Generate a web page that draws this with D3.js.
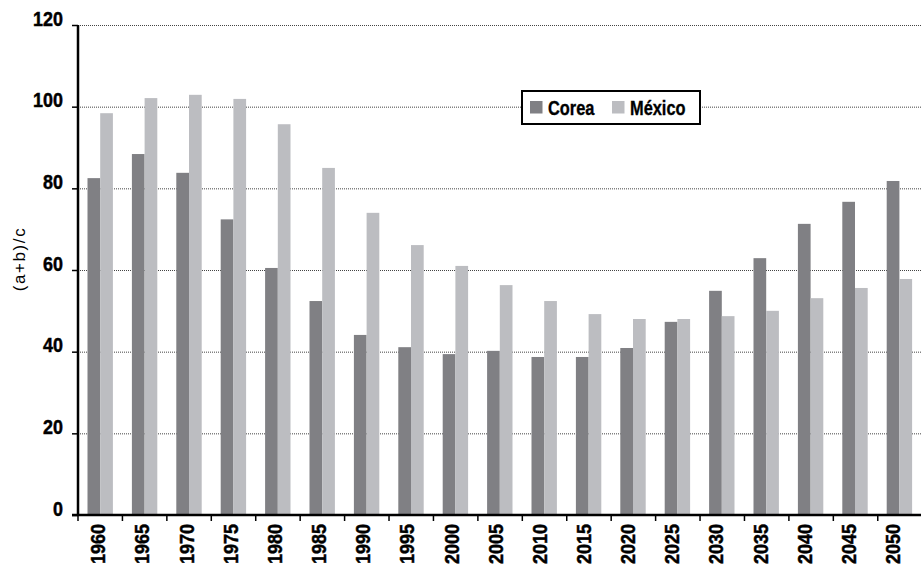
<!DOCTYPE html>
<html>
<head>
<meta charset="utf-8">
<script src="https://cdn.jsdelivr.net/npm/d3@7"></script>
<style>
  html, body { margin: 0; padding: 0; background: #fff; }
  svg { display: block; }
  .num { font-family: "Liberation Sans", Arial, sans-serif; font-weight: bold; font-size: 19.5px; fill: #000; stroke: #000; stroke-width: 0.45px; }
  .leg { font-family: "Liberation Sans", Arial, sans-serif; font-weight: bold; font-size: 20px; fill: #000; stroke: #000; stroke-width: 0.35px; }
  .ttl { font-family: "Liberation Sans", Arial, sans-serif; font-size: 17px; fill: #000; letter-spacing: 1.6px; }
</style>
</head>
<body>
<svg id="chart" width="921" height="567"></svg>
<script>
// ---- data ----
const years = ["1960","1965","1970","1975","1980","1985","1990","1995","2000","2005",
               "2010","2015","2020","2025","2030","2035","2040","2045","2050"];
const corea  = [82.5, 88.4, 83.8, 72.4, 60.5, 52.4, 44.1, 41.1, 39.4, 40.2,
                38.7, 38.7, 40.9, 47.3, 54.9, 62.9, 71.3, 76.7, 81.8];
const mexico = [98.4, 102.1, 102.9, 101.9, 95.7, 85.0, 74.0, 66.1, 61.0, 56.3,
                52.4, 49.2, 48.0, 48.0, 48.7, 50.0, 53.1, 55.6, 57.8];
const seriesNames = ["Corea", "México"];
const yTicks = [0, 20, 40, 60, 80, 100, 120];
const yTitle = "(a+b)/c";

(function () {
  const svg = d3.select("#chart");
  const mLeft = 78, mRight = 921.6, mTop = 25, mBottom = 515;
  const colors = { "Corea": "#808084", "México": "#bcbdc1" };

  const x = d3.scaleBand().domain(years).range([mLeft, mRight]).paddingInner(0).paddingOuter(0);
  const y = d3.scaleLinear().domain([0, 120]).range([mBottom, mTop]);
  const barW = 12.7;
  const groupOffset = (x.bandwidth() - 2 * barW) / 2;

  // tick marks on x axis (reference spacing differs slightly from bar bands)
  const xTickScale = d3.scaleLinear().domain([0, years.length]).range([mLeft, 880 + 42.2]);
  // label positions
  const xLabel = d3.scalePoint().domain(years).range([98.3, 893]);

  // gridlines
  svg.append("g").selectAll("line").data(yTicks.filter(d => d > 0)).join("line")
    .attr("x1", mLeft).attr("x2", 921)
    .attr("y1", d => y(d) + 0.5).attr("y2", d => y(d) + 0.5)
    .attr("stroke", "#444").attr("stroke-width", 1).attr("stroke-dasharray", "1,1");

  // bars
  const g = svg.append("g");
  years.forEach((yr, i) => {
    [corea[i], mexico[i]].forEach((v, k) => {
      g.append("rect")
        .attr("x", x(yr) + groupOffset + k * barW)
        .attr("y", y(v))
        .attr("width", barW)
        .attr("height", y(0) - y(v))
        .attr("fill", colors[seriesNames[k]]);
    });
  });

  // y axis
  const yAxis = d3.axisLeft(y).tickValues(yTicks).tickSize(6).tickFormat("");
  const yg = svg.append("g").attr("transform", `translate(${mLeft},0)`).call(yAxis);
  yg.select(".domain").remove();
  yg.selectAll(".tick line").attr("stroke", "#000").attr("stroke-width", 1.5);
  svg.append("line").attr("x1", mLeft).attr("x2", mLeft).attr("y1", mTop).attr("y2", mBottom + 1)
    .attr("stroke", "#000").attr("stroke-width", 2.5);

  svg.append("g").selectAll("text").data(yTicks).join("text")
    .attr("class", "num")
    .attr("transform", d => `translate(63,${y(d) + 0.5}) scale(0.92,1)`)
    .attr("text-anchor", "end")
    .text(d => d);

  // x axis line & ticks
  svg.append("line").attr("x1", mLeft - 6).attr("x2", 921).attr("y1", mBottom).attr("y2", mBottom)
    .attr("stroke", "#000").attr("stroke-width", 2.5);
  svg.append("g").selectAll("line").data(d3.range(years.length + 1)).join("line")
    .attr("x1", d => xTickScale(d)).attr("x2", d => xTickScale(d))
    .attr("y1", mBottom).attr("y2", mBottom + 6)
    .attr("stroke", "#000").attr("stroke-width", 1.5);

  // x labels
  svg.append("g").selectAll("text").data(years).join("text")
    .attr("class", "num")
    .attr("transform", d => `translate(${xLabel(d) + 7},524) rotate(-90) scale(0.92,1)`)
    .attr("text-anchor", "end")
    .text(d => d);

  // y title
  svg.append("text").attr("class", "ttl")
    .attr("transform", "translate(24.5,259) rotate(-90)")
    .attr("text-anchor", "middle")
    .text(yTitle);

  // legend
  const lg = svg.append("g");
  lg.append("rect").attr("x", 522).attr("y", 91).attr("width", 178).attr("height", 33)
    .attr("fill", "#fff").attr("stroke", "#000").attr("stroke-width", 2);
  const legX = [530, 612];
  seriesNames.forEach((s, i) => {
    lg.append("rect").attr("x", legX[i]).attr("y", 101).attr("width", 12.5).attr("height", 12.5)
      .attr("fill", colors[s]);
    lg.append("text").attr("class", "leg")
      .attr("transform", `translate(${legX[i] + 18},115) scale(0.82,1)`)
      .text(s);
  });
})();
</script>
</body>
</html>
